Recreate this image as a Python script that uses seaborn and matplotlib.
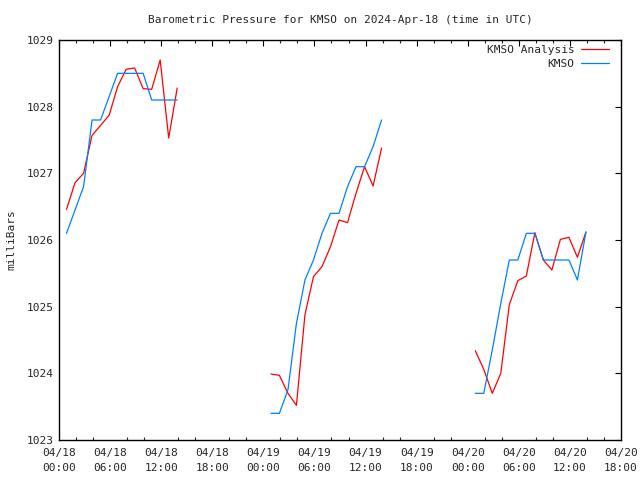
import numpy as np
import pandas as pd
import matplotlib
matplotlib.use("Agg")
import matplotlib.pyplot as plt
import matplotlib.dates as mdates
from matplotlib.lines import Line2D
import seaborn as sns

# ---- data (hourly values, observations at :53 past each hour) ----
segment_starts = ["2024-04-18 00:53", "2024-04-19 00:53", "2024-04-20 00:53"]
points_per_segment = 14

kmso_seg1 = [1026.10, 1026.45, 1026.80, 1027.80, 1027.80, 1028.15, 1028.50,
             1028.50, 1028.50, 1028.50, 1028.10, 1028.10, 1028.10, 1028.10]
kmso_seg2 = [1023.40, 1023.40, 1023.75, 1024.75, 1025.40, 1025.70, 1026.10,
             1026.40, 1026.40, 1026.80, 1027.10, 1027.10, 1027.40, 1027.80]
kmso_seg3 = [1023.70, 1023.70, 1024.35, 1025.05, 1025.70, 1025.70, 1026.10,
             1026.10, 1025.70, 1025.70, 1025.70, 1025.70, 1025.40, 1026.12]

analysis_seg1 = [1026.46, 1026.86, 1027.00, 1027.57, 1027.72, 1027.87, 1028.30,
                 1028.56, 1028.58, 1028.27, 1028.26, 1028.70, 1027.53, 1028.28]
analysis_seg2 = [1023.99, 1023.97, 1023.70, 1023.52, 1024.88, 1025.45, 1025.60,
                 1025.90, 1026.30, 1026.26, 1026.70, 1027.10, 1026.81, 1027.38]
analysis_seg3 = [1024.34, 1024.06, 1023.70, 1024.00, 1025.03, 1025.39, 1025.46,
                 1026.11, 1025.70, 1025.55, 1026.01, 1026.04, 1025.74, 1026.12]

series_names = ["KMSO Analysis", "KMSO"]
series_colors = ["#ff0000", "#0080ff"]
title = "Barometric Pressure for KMSO on 2024-Apr-18 (time in UTC)"
ylabel = "milliBars"
x_start = "2024-04-18 00:00"
x_end = "2024-04-20 18:00"
y_min, y_max = 1023, 1029

# ---- build long table ----
rows = []
seg_data = {
    "KMSO Analysis": [analysis_seg1, analysis_seg2, analysis_seg3],
    "KMSO": [kmso_seg1, kmso_seg2, kmso_seg3],
}
for name, segs in seg_data.items():
    for i, (start, vals) in enumerate(zip(segment_starts, segs)):
        times = pd.date_range(start, periods=points_per_segment, freq="h")
        for t, v in zip(times, vals):
            rows.append({"time": t, "value": v, "series": name, "seg": i})
df = pd.DataFrame(rows)

# ---- plotting ----
sns.set_style("white")
plt.rcParams["font.family"] = ["DejaVu Sans Mono"]
plt.rcParams["font.size"] = 8

fig = plt.figure(figsize=(6.4, 4.8), dpi=100)
ax = fig.add_axes([59 / 640, 40 / 480, 562 / 640, 400 / 480])

palette = dict(zip(series_names, series_colors))
sns.lineplot(data=df, x="time", y="value", hue="series", units="seg",
             estimator=None, palette=palette, linewidth=0.9, ax=ax,
             legend=False, hue_order=series_names)

ax.set_xlim(pd.Timestamp(x_start), pd.Timestamp(x_end))
ax.set_ylim(y_min, y_max)
ax.set_yticks(range(y_min, y_max + 1))
ax.set_yticklabels([str(v) for v in range(y_min, y_max + 1)])

ax.xaxis.set_major_locator(mdates.HourLocator(byhour=[0, 6, 12, 18]))
ax.xaxis.set_minor_locator(mdates.HourLocator(byhour=list(range(0, 24, 2))))
ax.xaxis.set_major_formatter(mdates.DateFormatter("%m/%d\n%H:%M"))

ax.tick_params(axis="both", which="major", direction="in", length=4.5,
               width=0.8, top=True, right=True, labelsize=8, color="black")
ax.tick_params(axis="x", which="minor", direction="in", length=2.5,
               width=0.8, top=True, bottom=True)
ax.tick_params(axis="x", which="major", pad=6)
ax.tick_params(axis="y", which="major", pad=4)

for s in ax.spines.values():
    s.set_color("black")
    s.set_linewidth(1.0)

ax.set_xlabel("")
ax.set_ylabel(ylabel, fontsize=8, labelpad=7)
ax.set_title(title, fontsize=8, pad=12)

handles = [Line2D([0], [0], color=c, linewidth=0.9) for c in series_colors]
leg = ax.legend(handles, series_names, loc="upper right", frameon=False,
                markerfirst=False, fontsize=8, handlelength=2.5,
                handletextpad=0.6, labelspacing=0.4,
                borderaxespad=0.3, bbox_to_anchor=(0.992, 1.008))

fig.canvas.draw()
for lbl in ax.get_xticklabels():
    lbl.set_linespacing(1.55)

fig.savefig("out.png", dpi=100)
